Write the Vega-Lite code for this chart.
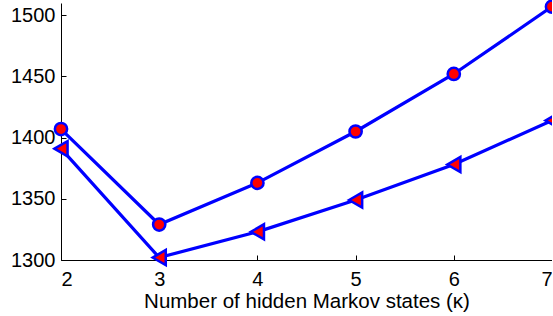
{
  "$schema": "https://vega.github.io/schema/vega-lite/v6.json",
  "autosize": "none",
  "padding": {"left": 61, "top": 3, "right": 0, "bottom": 56},
  "width": 491,
  "height": 257,
  "background": "white",
  "config": {
    "view": {"stroke": null},
    "axis": {"labelFont": "Liberation Sans", "titleFont": "Liberation Sans", "labelColor": "black", "titleColor": "black", "domainColor": "black", "tickColor": "black", "grid": false}
  },
  "data": {
    "values": [
      {"k": 2, "v": 1407, "s": "A"},
      {"k": 3, "v": 1329, "s": "A"},
      {"k": 4, "v": 1363, "s": "A"},
      {"k": 5, "v": 1405, "s": "A"},
      {"k": 6, "v": 1452, "s": "A"},
      {"k": 7, "v": 1507, "s": "A"},
      {"k": 2, "v": 1391, "s": "B"},
      {"k": 3, "v": 1302, "s": "B"},
      {"k": 4, "v": 1323, "s": "B"},
      {"k": 5, "v": 1349, "s": "B"},
      {"k": 6, "v": 1378, "s": "B"},
      {"k": 7, "v": 1414, "s": "B"}
    ]
  },
  "encoding": {
    "x": {"field": "k", "type": "quantitative", "scale": {"domain": [2, 7], "nice": false, "zero": false},
      "axis": {"values": [2, 3, 4, 5, 6, 7], "format": "d", "title": "Number of hidden Markov states (κ)", "labelFontSize": 20, "titleFontSize": 20.5, "titleFontWeight": "normal", "tickSize": -5, "labelPadding": 14, "titlePadding": 2, "domainWidth": 1}},
    "y": {"field": "v", "type": "quantitative", "scale": {"domain": [1300, 1510], "nice": false, "zero": false},
      "axis": {"values": [1300, 1350, 1400, 1450, 1500], "format": "d", "title": null, "labelFontSize": 20, "tickSize": -5, "labelPadding": 11, "domainWidth": 1}}
  },
  "layer": [
    {"mark": {"type": "line", "color": "#0000ff", "strokeWidth": 3.2, "clip": false}, "encoding": {"detail": {"field": "s"}}},
    {"mark": {"type": "point", "filled": false, "fill": "#ff0000", "stroke": "#0000ff", "strokeWidth": 2.5, "opacity": 1, "fillOpacity": 1, "clip": false},
      "encoding": {
        "shape": {"field": "s", "type": "nominal", "scale": {"domain": ["A", "B"], "range": ["circle", "triangle-left"]}, "legend": null},
        "size": {"field": "s", "type": "nominal", "scale": {"domain": ["A", "B"], "range": [150, 230]}, "legend": null}
      }}
  ]
}
